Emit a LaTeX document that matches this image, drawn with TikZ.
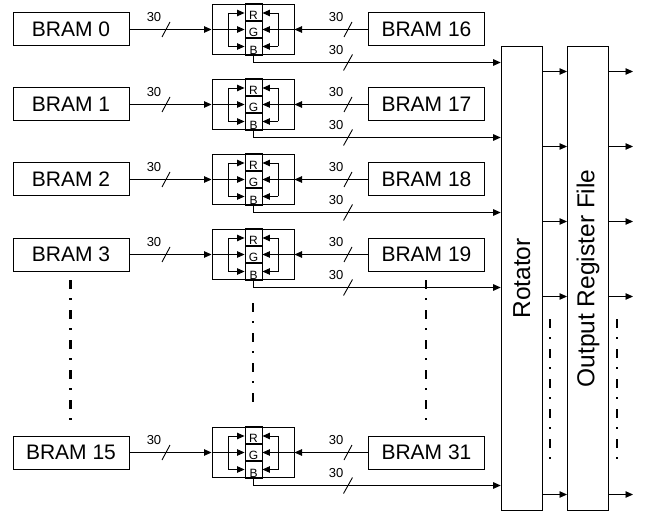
\documentclass[tikz,border=0pt]{standalone}
\usepackage{fontspec}
\setmainfont{Liberation Sans}
\usetikzlibrary{arrows.meta,calc}
\tikzset{
  wire/.style={line width=0.9pt, draw=black},
  arr/.style={wire, -{Triangle[length=7.5pt,width=6.5pt]}},
  bram/.style={draw, line width=1pt, minimum width=116pt, minimum height=33pt, inner sep=0pt, font=\fontsize{21}{24}\selectfont},
  mux/.style={draw, line width=1pt, minimum width=82pt, minimum height=50pt, inner sep=0pt},
  cell/.style={draw, line width=0.9pt, minimum width=17pt, minimum height=16.67pt, inner sep=0pt, text height=14.5pt, text depth=0pt, font=\fontsize{12}{13}\selectfont},
  big/.style={draw, line width=1pt, minimum width=41pt, minimum height=463.3pt, inner sep=0pt},
  bigtext/.style={rotate=90, font=\fontsize{24.5}{28}\selectfont},
  buslabel/.style={inner sep=0pt, font=\fontsize{13}{14}\selectfont},
  slash/.style={line width=0.9pt},
  dd/.style={line width=2.6pt, dash pattern=on 8.5pt off 9.5pt on 2.2pt off 9.8pt},
}
\begin{document}
\begin{tikzpicture}[x=1pt,y=-1pt]
\useasboundingbox (0,0) rectangle (651,516);
% big blocks
\node[big, label={[bigtext]center:Rotator}] (ROT) at (521.7,278.4) {};
\node[big, label={[bigtext]center:Output Register File}] (ORF) at (588,278.4) {};
\foreach \a/\b/\y in {0/16/29.5, 1/17/104.5, 2/18/179.5, 3/19/254.5, 15/31/452.5}{
  \node[bram] (L\a) at (71,\y) {BRAM \a};
  \node[bram] (R\b) at (426.5,\y) {BRAM \b};
  \node[mux] (M\a) at (253,\y) {};
  \node[cell] (CG\a) at (253.5,\y) {G};
  \node[cell, anchor=south] (CR\a) at (CG\a.north) {R};
  \node[cell, anchor=north] (CB\a) at (CG\a.south) {B};
  % inputs
  \draw[arr] (L\a.east) -- (M\a.west);
  \draw[arr] (R\b.west) -- (M\a.east);
  % left loop
  \coordinate (lt\a) at (228.3,\y-16.5);
  \coordinate (lb\a) at (228.3,\y+17);
  \draw[arr] (M\a.west) -- (CG\a.west);
  \draw[arr] (lt\a) -- (lt\a -| CR\a.west);
  \draw[wire] (lt\a) -- (lb\a);
  \draw[arr] (lb\a) -- (lb\a -| CB\a.west);
  % right loop
  \coordinate (rt\a) at (278.3,\y-16.5);
  \coordinate (rb\a) at (278.3,\y+17);
  \draw[arr] (M\a.east) -- (CG\a.east);
  \draw[arr] (rt\a) -- (rt\a -| CR\a.east);
  \draw[wire] (rt\a) -- (rb\a);
  \draw[arr] (rb\a) -- (rb\a -| CB\a.east);
  % B output to rotator
  \coordinate (bk\a) at (253.5,\y+33);
  \draw[arr] (CB\a.south) -- (bk\a) -- (bk\a -| ROT.west);
  % rotator -> ORF -> out
  \coordinate (ro\a) at (542,\y+42);
  \coordinate (oo\a) at (633,\y+42);
  \draw[arr] (ro\a) -- (ro\a -| ORF.west);
  \draw[arr] (ro\a -| ORF.east) -- (oo\a);
  % bus widths
  \coordinate (sl\a) at (166,\y);
  \coordinate (sr\a) at (348,\y);
  \coordinate (sb\a) at (348,\y+33);
  \draw[slash] ($(sl\a)+(-4,7.5)$) -- ($(sl\a)+(4,-7.5)$);
  \draw[slash] ($(sr\a)+(-4,7.5)$) -- ($(sr\a)+(4,-7.5)$);
  \draw[slash] ($(sb\a)+(-4.5,8)$) -- ($(sb\a)+(4.5,-8)$);
  \node[buslabel] (nl\a) at (154,\y-12) {30};
  \node[buslabel] (nr\a) at (336,\y-12) {30};
  \node[buslabel] (nb\a) at (336,\y+21) {30};
}
% continuation dots
\coordinate (d1a) at (70.5,280); \coordinate (d1b) at (70.5,422);
\coordinate (d2a) at (253,303); \coordinate (d2b) at (253,405);
\coordinate (d3a) at (426,280); \coordinate (d3b) at (426,422);
\coordinate (d4a) at (550,319); \coordinate (d4b) at (550,462);
\coordinate (d5a) at (617,319); \coordinate (d5b) at (617,462);
\draw[dd] (d1a) -- (d1b);
\draw[dd] (d2a) -- (d2b);
\draw[dd] (d3a) -- (d3b);
\draw[dd] (d4a) -- (d4b);
\draw[dd] (d5a) -- (d5b);
\end{tikzpicture}
\end{document}
